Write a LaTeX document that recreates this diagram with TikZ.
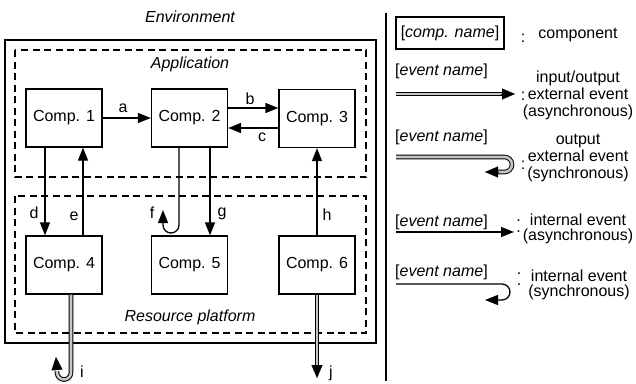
\documentclass[tikz,border=0pt]{standalone}
\usepackage{fontspec}
\setmainfont{Liberation Sans}
\usetikzlibrary{arrows.meta}
\begin{document}
\begin{tikzpicture}[x=1pt,y=-1pt,
  every node/.style={font=\fontsize{16}{15.5}\selectfont, inner sep=0pt},
  comp/.style={draw, line width=1.3pt, minimum width=76pt, minimum height=58pt},
  ttl/.style={font=\fontsize{16}{15.5}\selectfont\itshape},
  frame/.style={line width=1.4pt},
  region/.style={line width=1.3pt, dash pattern=on 7pt off 4.5pt},
  evt/.style={line width=1.3pt, -{Triangle[length=13pt,width=10pt]}},
  ext/.style={line width=1pt, double=gray!45, double distance=2.6pt},
  tip/.style={line width=0.1pt, -{Triangle[length=13pt,width=11pt]}},
  legtxt/.style={align=center, font=\fontsize{16}{17}\selectfont},
  legtwo/.style={align=center, font=\fontsize{16}{15}\selectfont},
  dots/.style={align=center, font=\fontsize{16}{11.5}\selectfont}]
\useasboundingbox (0,0) rectangle (636,383);

% enclosing environment and the two sub-regions
\node[ttl] (env) at (190,17) {Environment};
\draw[frame] (5,40) rectangle (376,343);
\draw[region] (15,50) rectangle (366,177);
\draw[region] (15,196) rectangle (366,333);
\node[ttl] (app) at (190,64) {Application};
\node[ttl] (rp) at (190,317) {Resource platform};

% components
\node[comp] (c1) at (64,118) {Comp. 1};
\node[comp] (c2) at (189.5,118) {Comp. 2};
\node[comp] (c3) at (317,118.5) {Comp. 3};
\node[comp] (c4) at (64,265) {Comp. 4};
\node[comp] (c5) at (189.5,265) {Comp. 5};
\node[comp] (c6) at (317,265) {Comp. 6};

% internal events
\draw[evt] (c1.east) -- (c2.west);
\draw[evt] (c2.east |- 0,108) -- (c3.west |- 0,108);
\draw[evt] (c3.west |- 0,128) -- (c2.east |- 0,128);
\draw[evt] (c1.south -| 45,0) -- (c4.north -| 45,0);
\draw[evt] (c4.north -| 83,0) -- (c1.south -| 83,0);
\draw[evt] (c2.south -| 210,0) -- (c5.north -| 210,0);
\draw[evt] (c6.north) -- (c3.south);
\coordinate (fend) at (163,210);
\draw[evt, rounded corners=8pt] (c2.south -| 179,0) -- (179,233) -- (163,233) -- (fend);

% external events
\coordinate (iend) at (56,357);
\draw[ext, rounded corners=7pt] (c4.south -| 71,0) -- (71,379.5) -- (57,379.5) -- (57,371);
\draw[tip] (57,370) -- (iend);
\coordinate (jend) at (317,378);
\draw[ext] (c6.south) -- (317,366);
\draw[tip] (317,365) -- (jend);

% event labels
\node (la) at (123,108) {a};
\node (lb) at (250,99) {b};
\node (lc) at (262,137) {c};
\node (ld) at (34,213) {d};
\node (le) at (74,216) {e};
\node (lf) at (152,213) {f};
\node (lg) at (222,214) {g};
\node (lh) at (327,215) {h};
\node (li) at (82,372) {i};
\node (lj) at (331,373) {j};

% separator
\coordinate (s1) at (386,13);
\coordinate (s2) at (386,381);
\draw[line width=1.2pt] (s1) -- (s2);

% legend
\node[draw, line width=1.3pt, minimum width=108pt, minimum height=32pt] (kcomp) at (450,33) {[\textit{comp. name}]};
\node (kc1) at (523,38) {:};
\node[legtxt] (kt1) at (578,35) {component};

\node[anchor=west] (kl2) at (395,71) {[\textit{event name}]};
\coordinate (k2a) at (396,94);
\coordinate (k2b) at (515,94);
\draw[ext] (k2a) -- (502,94);
\draw[tip] (501,94) -- (k2b);
\node (kc2) at (523,96) {:};
\node[legtxt] (kt2) at (578,95) {input/output\\external event\\(asynchronous)};

\node[anchor=west] (kl3) at (395,137) {[\textit{event name}]};
\coordinate (k3a) at (396,157);
\coordinate (k3b) at (485,172);
\draw[ext, rounded corners=7.5pt] (k3a) -- (512,157) -- (512,172) -- (498,172);
\draw[tip] (499,172) -- (k3b);
\node (kc3) at (523,165) {:};
\node[legtxt] (kt3) at (578,158) {output\\external event\\(synchronous)};

\node[anchor=west] (kl4) at (395,222) {[\textit{event name}]};
\coordinate (k4a) at (396,232);
\coordinate (k4b) at (514,232);
\draw[evt] (k4a) -- (k4b);
\node[dots] (kc4) at (518.5,226) {.\\.};
\node[legtwo] (kt4) at (578,229) {internal event\\(asynchronous)};

\node[anchor=west] (kl5) at (395,272) {[\textit{event name}]};
\coordinate (k5a) at (396,284);
\coordinate (k5b) at (485,300);
\draw[evt, rounded corners=8pt] (k5a) -- (510,284) -- (510,300) -- (k5b);
\node[dots] (kc5) at (519,279) {.\\.};
\node[legtwo] (kt5) at (579,285) {internal event\\(synchronous)};
\end{tikzpicture}
\end{document}
